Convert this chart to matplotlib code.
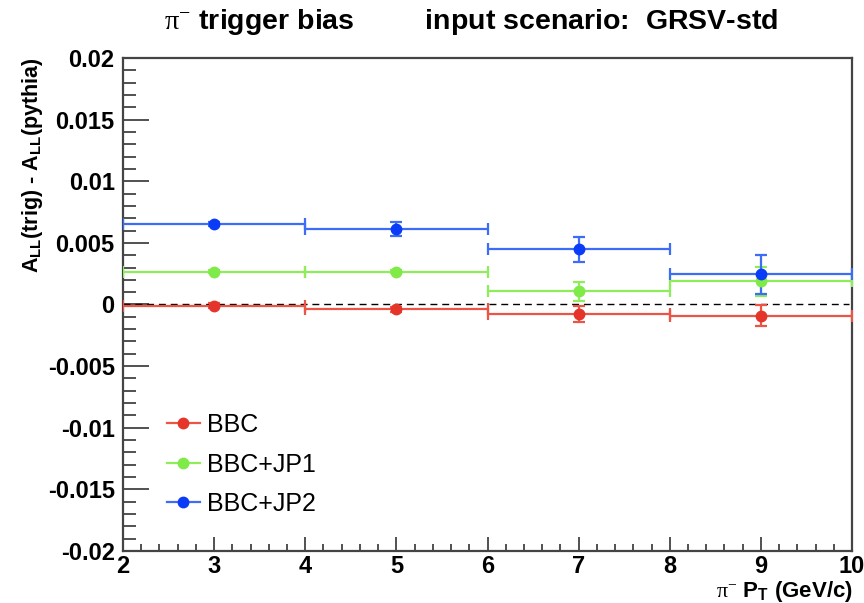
import matplotlib
matplotlib.use("Agg")
import matplotlib.pyplot as plt
from matplotlib.lines import Line2D
from matplotlib.ticker import MultipleLocator, FuncFormatter

plt.rcParams['font.family'] = ['Liberation Sans', 'DejaVu Sans']
plt.rcParams['mathtext.fontset'] = 'custom'
plt.rcParams['mathtext.rm'] = 'Liberation Serif'
plt.rcParams['mathtext.it'] = 'Liberation Serif'
plt.rcParams['mathtext.bf'] = 'Liberation Sans:bold'

# pT bins (centres and half-widths)
pt = [3, 5, 7, 9]
pt_err = [1, 1, 1, 1]

# A_LL(trig) - A_LL(pythia) per trigger
bbc = [-0.0001, -0.00039, -0.00077, -0.00093]
bbc_err = [0.0002, 0.0002, 0.00065, 0.00085]
jp1 = [0.00266, 0.00266, 0.00107, 0.00188]
jp1_err = [0.0001, 0.0001, 0.00075, 0.0012]
jp2 = [0.00653, 0.00615, 0.00448, 0.00245]
jp2_err = [0.0002, 0.00057, 0.001, 0.0016]

labels = ['BBC', 'BBC+JP1', 'BBC+JP2']
series = [(bbc, bbc_err), (jp1, jp1_err), (jp2, jp2_err)]
line_colors = ['#ec5545', '#8ded5a', '#3d6cf6']
mark_colors = ['#e5352a', '#80ea48', '#0a3cf8']

W, H = 864, 603
fig = plt.figure(figsize=(W / 100, H / 100), dpi=100)
ax = fig.add_axes([123 / W, 1 - 551 / H, (852 - 123) / W, (551 - 58) / H])

for (y, ye), lc, mc in zip(series, line_colors, mark_colors):
    ax.errorbar(pt, y, xerr=pt_err, yerr=ye, fmt='o', color=lc, ecolor=lc,
                mfc=mc, mec=mc, ms=7.5, elinewidth=1.6, capsize=4,
                capthick=1.6, zorder=3)

ax.plot([2, 9.97], [0, 0], ls=(0, (5, 3.5)), color='black', lw=1.0, zorder=2)

ax.set_xlim(2, 10)
ax.set_ylim(-0.02, 0.02)

ax.xaxis.set_major_locator(MultipleLocator(1))
ax.xaxis.set_minor_locator(MultipleLocator(0.2))
ax.yaxis.set_major_locator(MultipleLocator(0.005))
ax.yaxis.set_minor_locator(MultipleLocator(0.001))


def yfmt(v, _):
    if abs(v) < 1e-12:
        return '0'
    return ('%g' % round(v, 4))


ax.yaxis.set_major_formatter(FuncFormatter(yfmt))
ax.xaxis.set_major_formatter(FuncFormatter(lambda v, _: '%d' % round(v)))

ax.tick_params(axis='both', which='both', direction='in', top=False,
               right=False, color='#333333', width=1.2)
ax.tick_params(axis='x', which='major', length=10, pad=3)
ax.tick_params(axis='x', which='minor', length=5)
ax.tick_params(axis='y', which='major', length=19, pad=6)
ax.tick_params(axis='y', which='minor', length=9.5)
for lab in ax.get_xticklabels() + ax.get_yticklabels():
    lab.set_fontweight('bold')
    lab.set_fontsize(17)

for s in ax.spines.values():
    s.set_color('#444444')
    s.set_linewidth(1.6)

fig.text(471 / W, 1 - 22 / H,
         r'$\mathrm{\pi}^{-}$ trigger bias         input scenario:  GRSV-std',
         ha='center', va='center', fontsize=20.5, fontweight='bold')

fig.text(853 / W, 1 - 591 / H, r'$\mathrm{\pi}^{-}$ P$_{\mathbf{T}}$ (GeV/c)',
         ha='right', va='center', fontsize=16, fontweight='bold')

fig.text(33 / W, 1 - 57 / H,
         r'A$_{\mathbf{LL}}$(trig) - A$_{\mathbf{LL}}$(pythia)',
         ha='center', va='top', rotation=90, fontsize=15.5, fontweight='bold')

handles = [Line2D([0], [0], color=lc, lw=1.6, marker='o', mfc=mc, mec=mc, ms=7.5)
           for lc, mc in zip(line_colors, mark_colors)]
ax.legend(handles, labels, loc='upper left',
          bbox_to_anchor=(167 / W, 1 - 413 / H), bbox_transform=fig.transFigure,
          frameon=False, fontsize=18, handlelength=1.3, handletextpad=0.3,
          labelspacing=0.62, borderpad=0, borderaxespad=0)

fig.savefig('out.png', dpi=100)
